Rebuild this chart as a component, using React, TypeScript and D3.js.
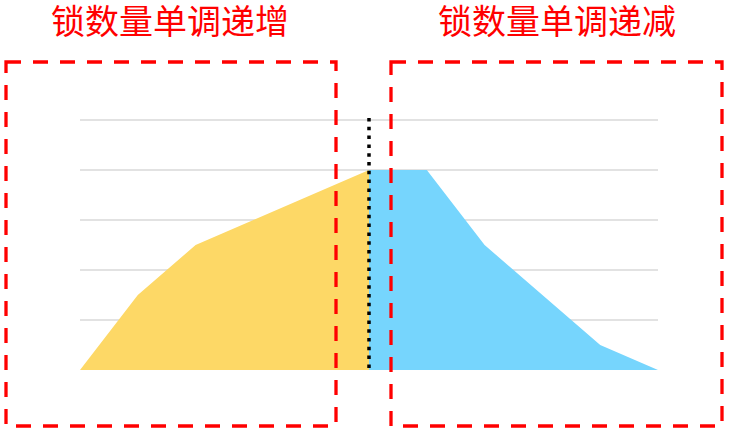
import React, { useEffect, useRef } from 'react';
import * as d3 from 'd3';

// values (gridline units 0..5)
const increasing = [0, 1.5, 2.5, 3, 3.5, 4];
const decreasing = [4, 4, 2.5, 1.5, 0.5, 0];
const gridTicks = [1, 2, 3, 4, 5];
const titles = ['锁数量单调递增', '锁数量单调递减'];

const App = () => {
  const ref = useRef<SVGSVGElement | null>(null);

  useEffect(() => {
    const width = 729;
    const height = 436;

    const svg = d3.select(ref.current);
    svg.selectAll('*').remove();
    svg.attr('width', width).attr('height', height);

    const x = d3.scaleLinear().domain([0, 10]).range([80, 658]);
    const y = d3.scaleLinear().domain([0, 5]).range([370, 120]);

    // gridlines
    svg.append('g')
      .selectAll('line')
      .data(gridTicks)
      .enter()
      .append('line')
      .attr('x1', x(0))
      .attr('x2', x(10))
      .attr('y1', d => y(d))
      .attr('y2', d => y(d))
      .attr('stroke', '#d9d9d9')
      .attr('stroke-width', 1.5);

    const area = d3.area<[number, number]>()
      .x(d => x(d[0]))
      .y0(y(0))
      .y1(d => y(d[1]));

    const incPts: [number, number][] = increasing.map((v, i) => [i, v]);
    const decPts: [number, number][] = decreasing.map((v, i) => [i + 5, v]);

    svg.append('path').attr('d', area(incPts)).attr('fill', '#fdd866');
    svg.append('path').attr('d', area(decPts)).attr('fill', '#76d5fd');

    // split line at the peak
    svg.append('line')
      .attr('x1', x(5))
      .attr('x2', x(5))
      .attr('y1', y(5) - 2)
      .attr('y2', y(0) + 2)
      .attr('stroke', '#000')
      .attr('stroke-width', 3.5)
      .attr('stroke-dasharray', '3.5 5.3');

    // red dashed boxes
    const boxes = [
      { x: 6, y: 62, w: 330, h: 364 },
      { x: 391, y: 62, w: 331, h: 364 },
    ];
    svg.append('g')
      .selectAll('rect')
      .data(boxes)
      .enter()
      .append('rect')
      .attr('x', d => d.x)
      .attr('y', d => d.y)
      .attr('width', d => d.w)
      .attr('height', d => d.h)
      .attr('fill', 'none')
      .attr('stroke', '#ff0000')
      .attr('stroke-width', 3.3)
      .attr('stroke-dasharray', '15 12');

    svg.append('g')
      .selectAll('text')
      .data(titles)
      .enter()
      .append('text')
      .attr('x', (d, i) => (i === 0 ? 170 : 557))
      .attr('y', 34)
      .attr('text-anchor', 'middle')
      .attr('fill', '#ff0000')
      .style('font-family', '"Noto Sans CJK SC", sans-serif')
      .style('font-size', '34px')
      .text(d => d);
  }, []);

  return (
    <div style={{ position: 'absolute', left: 0, top: 0, background: '#fff' }}>
      <svg ref={ref} style={{ display: 'block' }}></svg>
    </div>
  );
};

export default App;
